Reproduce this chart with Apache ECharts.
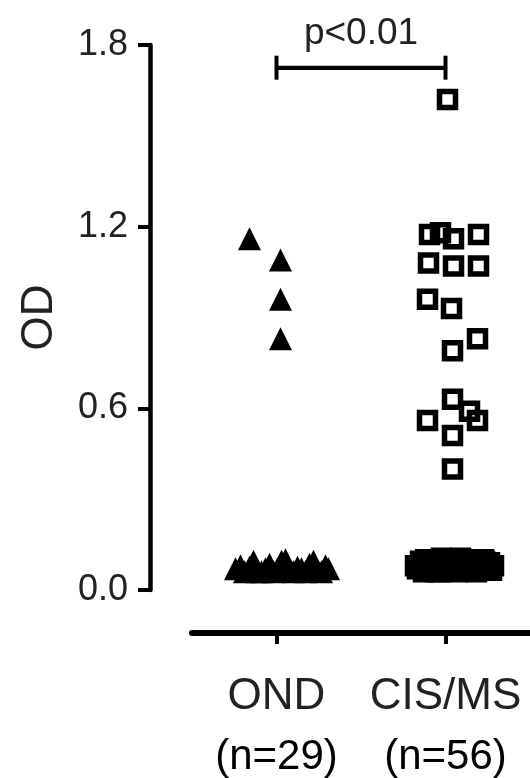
<!DOCTYPE html>
<html><head><meta charset="utf-8">
<script src="https://cdn.jsdelivr.net/npm/echarts@6/dist/echarts.min.js"></script>
<style>html,body{margin:0;padding:0;background:#fff}#c{width:530px;height:778px}</style>
</head><body><div id="c"></div>
<script>
const categories = ['OND', 'CIS/MS'];
const groupSizes = ['(n=29)', '(n=56)'];
const yTicks = [0, 0.6, 1.2, 1.8];
const yLabel = 'OD';
const pLabel = 'p<0.01';
const bracketLevel = 1.725;

const ondValues = [1.16, 1.09, 0.96, 0.83,
  0.07, 0.08, 0.06, 0.075, 0.095, 0.065, 0.06, 0.07, 0.085, 0.06, 0.07, 0.095, 0.1,
  0.065, 0.06, 0.075, 0.07, 0.06, 0.085, 0.095, 0.065, 0.06, 0.08, 0.07, 0.06];
const cisValues = [1.62, 1.174, 1.18, 1.16, 1.174, 1.08, 1.07, 1.07, 0.96, 0.93, 0.83, 0.79,
  0.63, 0.59, 0.56, 0.56, 0.51, 0.40,
  0.08, 0.07, 0.095, 0.06, 0.1, 0.075, 0.065, 0.1, 0.085, 0.06, 0.105, 0.07, 0.09, 0.065,
  0.1, 0.075, 0.06, 0.105, 0.08, 0.07, 0.095, 0.065, 0.1, 0.06, 0.085, 0.075, 0.095,
  0.07, 0.09, 0.065, 0.08, 0.075, 0.06, 0.09, 0.07, 0.1, 0.065, 0.085];

// horizontal jitter (px) of each point around its category
const ondJitter = [-27, 4, 4, 4,
  -41, -36, -32, -27, -23, -19, -15, -11, -7, -3, 1, 5, 9, 13, 17, 21, 25, 29, 33, 37, 41, 45, 49, 52, -20];
const cisJitter = [2, -16, -5, 8, 33, -17, 8, 33, -18, 6, 32, 7, 7, 24, 32, -18, 7, 7,
  -30, -28, -25, -22, -20, -17, -14, -12, -9, -6, -4, -1, 2, 4, 7, 10, 12, 15, 18, 20,
  23, 26, 28, 31, 34, 36, 39, 42, 44, 46, 48, -26, -10, 6, 22, 38, -18, 14];

const FONT = '"Liberation Sans", Arial, sans-serif';
const chart = echarts.init(document.getElementById('c'), null, {renderer: 'canvas'});

const ondData = ondValues.map((v, i) => ({value: [categories[0], v], symbolOffset: [ondJitter[i], 0]}));
const cisData = cisValues.map((v, i) => ({value: [categories[1], v], symbolOffset: [cisJitter[i], 0]}));

chart.setOption({
  animation: false,
  backgroundColor: '#fff',
  grid: {left: 192, right: 0, top: 45, bottom: 184, containLabel: false},
  xAxis: {
    type: 'category', data: categories, offset: 43, boundaryGap: true,
    axisLine: {show: true, onZero: false, lineStyle: {color: '#000', width: 6}},
    axisTick: {show: true, inside: false, alignWithLabel: true, length: 11, lineStyle: {color: '#000', width: 4}},
    axisLabel: {
      margin: 34, interval: 0,
      formatter: (v, i) => '{a|' + v + '}\n{b|' + groupSizes[i] + '}',
      rich: {
        a: {fontFamily: FONT, fontSize: 44, color: '#222', lineHeight: 60},
        b: {fontFamily: FONT, fontSize: 42, color: '#000', lineHeight: 60}
      }
    },
    splitLine: {show: false}
  },
  yAxis: {
    type: 'value', min: yTicks[0], max: yTicks[yTicks.length - 1], interval: yTicks[1] - yTicks[0],
    offset: 42,
    name: yLabel, nameLocation: 'middle', nameRotate: 90, nameGap: 88,
    nameTextStyle: {fontFamily: FONT, fontSize: 44, color: '#222'},
    axisLine: {show: true, onZero: false, lineStyle: {color: '#000', width: 4.5}},
    axisTick: {show: true, length: 12, lineStyle: {color: '#000', width: 4}},
    axisLabel: {margin: 22, fontFamily: FONT, fontSize: 36, color: '#222', formatter: v => v.toFixed(1)},
    splitLine: {show: false}
  },
  series: [
    {
      type: 'scatter', name: categories[0], data: ondData, symbol: 'triangle', symbolSize: 23,
      itemStyle: {color: '#000', opacity: 1}
    },
    {
      type: 'scatter', name: categories[1], data: cisData, symbol: 'rect', symbolSize: 16,
      itemStyle: {color: 'transparent', borderColor: '#000', borderWidth: 5.5, opacity: 1}
    },
    {
      type: 'line', data: [[categories[0], bracketLevel], [categories[1], bracketLevel]],
      symbol: 'rect', symbolSize: [4, 24], showSymbol: true,
      itemStyle: {color: '#000'}, lineStyle: {color: '#000', width: 4},
      markLine: {
        silent: true, symbol: ['none', 'none'],
        lineStyle: {color: '#000', width: 4, type: 'solid'},
        label: {show: true, position: 'middle', formatter: pLabel, fontFamily: FONT, fontSize: 37, color: '#222', distance: 15},
        data: [[{coord: [categories[0], bracketLevel]}, {coord: [categories[1], bracketLevel]}]]
      }
    }
  ]
});
</script></body></html>
